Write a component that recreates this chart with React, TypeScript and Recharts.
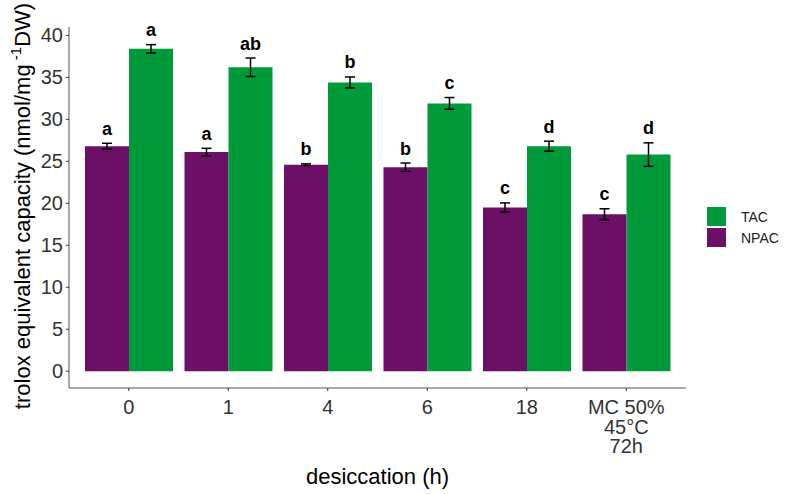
import React from "react";
import { ComposedChart, Bar, XAxis, YAxis, ErrorBar, LabelList } from "recharts";

const categories = ["0", "1", "4", "6", "18", "MC 50%\n45°C\n72h"];
const npac = [26.8, 26.1, 24.6, 24.3, 19.5, 18.7];
const npacSe = [0.35, 0.45, 0.1, 0.5, 0.55, 0.65];
const tac = [38.4, 36.2, 34.4, 31.9, 26.8, 25.8];
const tacSe = [0.5, 1.1, 0.65, 0.7, 0.6, 1.4];
const npacLetters = ["a", "a", "b", "b", "c", "c"];
const tacLetters = ["a", "ab", "b", "c", "d", "d"];
const yTicks = [0, 5, 10, 15, 20, 25, 30, 35, 40];

const PURPLE = "#6C0F66";
const GREEN = "#009A3A";
const FONT = "'Liberation Sans', Arial, sans-serif";

const data = categories.map((cat, i) => ({
  cat,
  npac: npac[i],
  npacSe: npacSe[i],
  npacLetter: npacLetters[i],
  tac: tac[i],
  tacSe: tacSe[i],
  tacLetter: tacLetters[i],
}));

// letter sits just above the error bar cap; px per unit taken from the bar itself
function letterLabel(values: number[], errs: number[]) {
  return (props: any) => {
    const vb = props.viewBox || props;
    const { x, y, width, height } = vb;
    const i = props.index;
    const pxPerUnit = height / values[i];
    const top = y - errs[i] * pxPerUnit;
    return (
      <text
        x={x + width / 2}
        y={top - 8.5}
        textAnchor="middle"
        fontFamily={FONT}
        fontWeight="bold"
        fontSize={18}
        fill="#000"
      >
        {props.value}
      </text>
    );
  };
}

function XTick(props: any) {
  const { x, y, payload } = props;
  const lines = String(payload.value).split("\n");
  return (
    <text x={x} y={y} textAnchor="middle" fontFamily={FONT} fontSize={20} fill="#333">
      {lines.map((l, i) => (
        <tspan key={i} x={x} dy={i === 0 ? 21 : 19.5}>
          {l}
        </tspan>
      ))}
    </text>
  );
}

function YLabel(props: any) {
  const cx = 30;
  const cy = 206;
  return (
    <text
      x={cx}
      y={cy}
      transform={`rotate(-90, ${cx}, ${cy})`}
      textAnchor="middle"
      fontFamily={FONT}
      fontSize={22}
      fill="#000"
    >
      trolox equivalent capacity (nmol/mg
      <tspan dy={-9} fontSize={15}>
        {" -1"}
      </tspan>
      <tspan dy={9}>DW)</tspan>
    </text>
  );
}

function XLabel(props: any) {
  const vb = props.viewBox;
  return (
    <text
      x={vb.x + vb.width / 2}
      y={vb.y + 96}
      textAnchor="middle"
      fontFamily={FONT}
      fontSize={22}
      fill="#000"
    >
      desiccation (h)
    </text>
  );
}

const legendItems = [
  { label: "TAC", color: GREEN },
  { label: "NPAC", color: PURPLE },
];

export default function App() {
  return (
    <div style={{ position: "absolute", left: 0, top: 0, width: 785, height: 494, background: "#fff" }}>
      <ComposedChart
        width={785}
        height={494}
        data={data}
        margin={{ top: 27, right: 99, bottom: 46, left: 0 }}
        barCategoryGap={6}
        barGap={0}
      >
        <XAxis
          dataKey="cat"
          height={60}
          padding={{ left: 10, right: 10 }}
          tick={<XTick />}
          tickSize={3}
          tickMargin={2}
          tickLine={{ stroke: "#333" }}
          axisLine={{ stroke: "#555" }}
          interval={0}
          label={<XLabel />}
        />
        <YAxis
          width={69}
          domain={[-2, 41]}
          ticks={yTicks}
          allowDataOverflow
          tickSize={3}
          tickMargin={3}
          tickLine={{ stroke: "#333" }}
          axisLine={{ stroke: "#555" }}
          tick={{ fontFamily: FONT, fontSize: 20, fill: "#333" }}
          label={<YLabel />}
        />
        <Bar dataKey="npac" fill={PURPLE} isAnimationActive={false}>
          <ErrorBar dataKey="npacSe" width={5} strokeWidth={1.5} stroke="#000" direction="y" />
          <LabelList dataKey="npacLetter" content={letterLabel(npac, npacSe)} />
        </Bar>
        <Bar dataKey="tac" fill={GREEN} isAnimationActive={false}>
          <ErrorBar dataKey="tacSe" width={5} strokeWidth={1.5} stroke="#000" direction="y" />
          <LabelList dataKey="tacLetter" content={letterLabel(tac, tacSe)} />
        </Bar>
      </ComposedChart>
      <div style={{ position: "absolute", left: 707, top: 206, fontFamily: FONT, fontSize: 14, color: "#222" }}>
        {legendItems.map((it) => (
          <div key={it.label} style={{ display: "flex", alignItems: "center", height: 21 }}>
            <div style={{ width: 19, height: 19, background: it.color, marginRight: 15 }} />
            <span>{it.label}</span>
          </div>
        ))}
      </div>
    </div>
  );
}
